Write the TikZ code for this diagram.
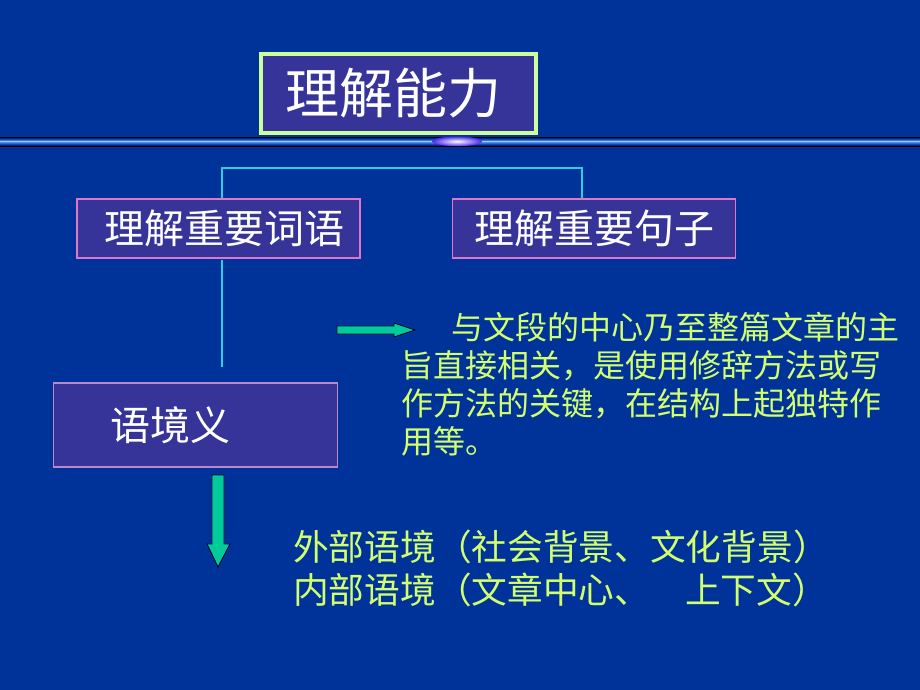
\documentclass[tikz,border=0pt]{standalone}
\usepackage{fontspec}
\setmainfont{Noto Sans CJK SC}
\usetikzlibrary{positioning}
\definecolor{bgblue}{RGB}{0,51,153}
\definecolor{boxfill}{RGB}{54,51,153}
\definecolor{titleborder}{RGB}{204,255,153}
\definecolor{pinkborder}{RGB}{221,119,204}
\definecolor{lavborder}{RGB}{187,136,204}
\definecolor{connc}{RGB}{51,204,221}
\definecolor{txtyellow}{RGB}{210,255,110}
\definecolor{arrowgreen}{RGB}{0,204,153}
\definecolor{bandblue}{RGB}{0,60,220}
\definecolor{bandlight}{RGB}{90,170,255}
\tikzset{
  titlebox/.style={draw=titleborder, line width=4pt, fill=boxfill, minimum width=275pt, minimum height=79pt, inner sep=0pt, text=white, font=\fontsize{54}{60}\selectfont},
  subbox/.style={draw=pinkborder, line width=1.2pt, fill=boxfill, minimum width=283pt, minimum height=59pt, inner sep=0pt, text=white, font=\fontsize{40}{46}\selectfont},
  ctxbox/.style={draw=lavborder, line width=1.2pt, fill=boxfill, minimum width=284pt, minimum height=84pt, inner sep=0pt, text=white, font=\fontsize{40}{46}\selectfont},
  conn/.style={draw=connc, line width=1.3pt},
  bigarrow/.style={fill=arrowgreen, draw=black!80!blue, line width=0.9pt, line join=miter},
  para/.style={text=txtyellow, inner sep=0pt, align=left, anchor=base west, font=\fontsize{32}{38}\selectfont},
  ctxtext/.style={text=txtyellow, inner sep=0pt, align=left, anchor=base west, font=\fontsize{35.7}{43}\selectfont},
}
\begin{document}
\begin{tikzpicture}[x=1pt,y=-1pt]
\useasboundingbox (0,0) rectangle (920,690);
\fill[bgblue] (0,0) rectangle (920,690);
% decorative band
\fill[black] (0,136.5) rectangle (920,146.5);
\shade[top color=bandblue!60!black, bottom color=bandlight] (0,138) rectangle (920,141.3);
\shade[top color=bandlight, bottom color=bandblue!60!black] (0,141.3) rectangle (920,145);
\fill[bandlight!60!white] (0,140.6) rectangle (920,141.8);
\shade[inner color=white, outer color=bandblue!70!magenta] (457,141.3) ellipse [x radius=25, y radius=4.8];
% title
\node[titlebox] (title) at (398.5,93.5) {理解能力\hspace*{11pt}};
% sub boxes
\node[subbox] (b1) at (218.5,228.5) {\hspace*{11pt}理解重要词语};
\node[subbox] (b2) at (594,228.5) {理解重要句子};
\node[ctxbox] (b3) at (195.5,425) {语境义\hspace*{51pt}};
% connectors
\coordinate (ltop) at (222,168);
\coordinate (rtop) at (582,168);
\draw[conn] (ltop |- b1.north) -- (ltop) -- (rtop) -- (rtop |- b2.north);
\coordinate (vstart) at (222,260);
\coordinate (vend) at (222,367);
\draw[conn] (vstart) -- (vend);
% arrows
\draw[bigarrow] (337,326) -- (394,326) -- (394,323) -- (415,330) -- (394,337) -- (394,334) -- (337,334) -- cycle;
\draw[bigarrow] (212,475) -- (224,475) -- (224,544) -- (230,544) -- (218,567) -- (207,544) -- (212,544) -- cycle;
% paragraph (base anchor = baseline of last line)
\node[para] (desc) at (401,453) {\hspace*{50pt}与文段的中心乃至整篇文章的主\\旨直接相关，是使用修辞方法或写\\作方法的关键，在结构上起独特作\\用等。};
% context lines
\node[ctxtext] (ext) at (293,560) {外部语境（社会背景、文化背景）};
\node[ctxtext] (int) at (293,603) {内部语境（文章中心、\hspace*{35pt}上下文）};
\end{tikzpicture}
\end{document}
